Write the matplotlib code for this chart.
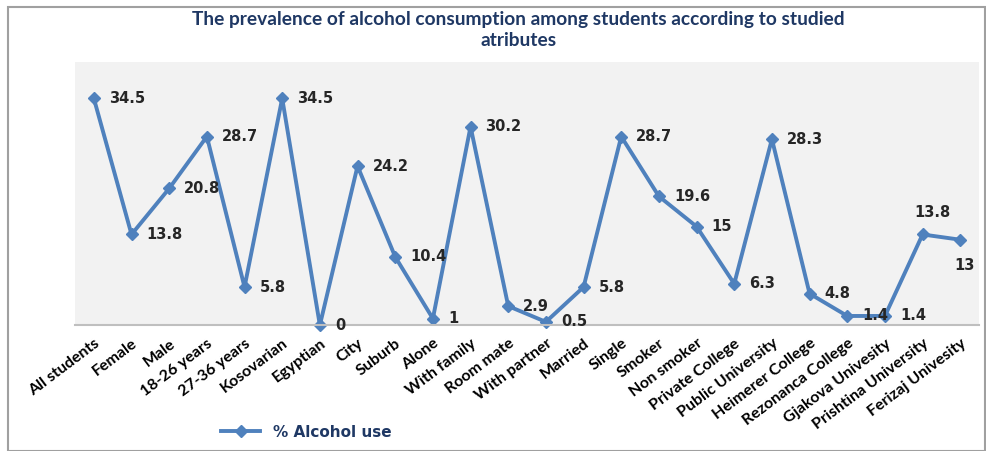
import matplotlib.pyplot as plt
from matplotlib.patches import Rectangle

categories = [
    "All students", "Female", "Male", "18-26 years", "27-36 years",
    "Kosovarian", "Egyptian", "City", "Suburb", "Alone", "With family",
    "Room mate", "With partner", "Married", "Single", "Smoker",
    "Non smoker", "Private College", "Public University",
    "Heimerer College", "Rezonanca College", "Gjakova Univesity",
    "Prishtina University", "Ferizaj Univesity",
]
alcohol_use = [
    34.5, 13.8, 20.8, 28.7, 5.8, 34.5, 0, 24.2, 10.4, 1, 30.2,
    2.9, 0.5, 5.8, 28.7, 19.6, 15, 6.3, 28.3, 4.8, 1.4, 1.4, 13.8, 13,
]

blue = "#4F81BD"
navy = "#1F3864"

fig = plt.figure(figsize=(9.87, 4.51), dpi=100)
fig.patches.append(Rectangle((0.008, 0.0), 0.99, 0.985, transform=fig.transFigure,
                             fill=False, edgecolor="#A0A0A0", linewidth=1.5))

ax = fig.add_axes([0.076, 0.279, 0.916, 0.583])
ax.set_facecolor("#F2F2F2")

x = list(range(len(categories)))
ax.plot(x, alcohol_use, color=blue, linewidth=2.8, marker="D", markersize=6,
        label="% Alcohol use", clip_on=False)

ax.set_xlim(-0.5, len(categories) - 0.5)
ax.set_ylim(0, 40)
ax.set_yticks([])
for side in ["top", "left", "right"]:
    ax.spines[side].set_visible(False)
ax.spines["bottom"].set_color("#BFBFBF")
ax.spines["bottom"].set_linewidth(1.5)

ax.set_xticks(x)
ax.set_xticklabels(categories, rotation=37, ha="right", rotation_mode="anchor",
                   fontsize=11.5, fontweight="bold", family=["Lato", "DejaVu Sans"])
ax.tick_params(axis="x", length=0, pad=8)

# value labels, mostly to the right of each point
offsets = {22: (10, 14, "center", "bottom"), 23: (4, -18, "center", "top")}
for i, v in enumerate(alcohol_use):
    dx, dy, ha, va = offsets.get(i, (15, 0, "left", "center"))
    label = f"{v:g}"
    ax.annotate(label, (i, v), xytext=(dx, dy), textcoords="offset pixels",
                ha=ha, va=va, fontsize=10.5, fontweight="bold", color="#262626",
                annotation_clip=False)

fig.suptitle("The prevalence of alcohol consumption among students according to studied\natributes",
             x=0.525, y=0.975, fontsize=13.8, fontweight="bold", color=navy,
             family=["Lato", "DejaVu Sans"], linespacing=1.3)

leg = fig.legend(loc="center", bbox_to_anchor=(0.31, 0.042), frameon=False,
                 prop={"weight": "bold", "size": 11}, handlelength=2.6)
for t in leg.get_texts():
    t.set_color(navy)

fig.savefig("out.png", dpi=100)
